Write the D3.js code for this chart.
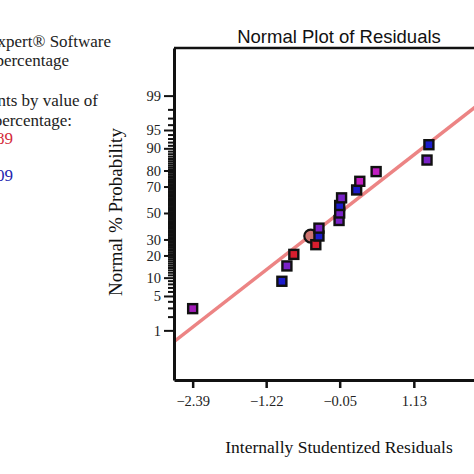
<!DOCTYPE html>
<html>
<head>
<meta charset="utf-8">
<script src="https://cdn.jsdelivr.net/npm/d3@7"></script>
<style>
  html, body { margin: 0; padding: 0; background: #fff; }
  svg { display: block; }
</style>
</head>
<body>
<svg id="chart" width="474" height="474"></svg>
<script>
// ---------- data ----------
const residuals = [-2.39, -0.97, -0.89, -0.78, -0.43, -0.38, -0.38, -0.06, -0.05, -0.05, -0.02, 0.22, 0.27, 0.53, 1.34, 1.37, 2.30];
const probabilities = [2.9, 8.8, 14.7, 20.6, 26.5, 32.4, 38.2, 44.1, 50.0, 55.9, 61.8, 67.6, 73.5, 79.4, 85.3, 91.2, 97.1];
const pointColors = ["#a11cb8", "#1c1ccc", "#7a22c8", "#d81e2e", "#d81e2e", "#1c1ccc", "#7a22c8", "#7a22c8", "#7a22c8", "#1c1ccc", "#7a22c8", "#1c1ccc", "#c21fc2", "#c21fc2", "#7a22c8", "#1c1ccc", "#d81e2e"];
const highlightResidual = [-0.51];
const highlightProbability = [32.4];
const xTickValues = [-2.39, -1.22, -0.05, 1.13, 2.30];
const yMajorTicks = [1, 5, 10, 20, 30, 50, 70, 80, 90, 95, 99];
const yMinorTicks = d3.range(1, 100).filter(v => !yMajorTicks.includes(v));
const xDomain = [-2.687, 2.597];
const zDomain = [-3.31, 3.27];
const fitIntercept = 0.057;
const fitSlope = 0.970;
const title = "Normal Plot of Residuals";
const xTitle = "Internally Studentized Residuals";
const yTitle = "Normal % Probability";
const sideText = ["Design-Expert® Software", "Removal percentage", "", "Color points by value of", "Removal percentage:", "98.89", "", "61.09"];
const sideColors = ["#222", "#222", "#222", "#222", "#222", "#d42a3a", "#222", "#2424b0"];

// ---------- helpers ----------
function probit(p) {
  // Acklam's inverse normal CDF approximation
  const a = [-3.969683028665376e+01, 2.209460984245205e+02, -2.759285104469687e+02, 1.383577518672690e+02, -3.066479806614716e+01, 2.506628277459239e+00];
  const b = [-5.447609879822406e+01, 1.615858368580409e+02, -1.556989798598866e+02, 6.680131188771972e+01, -1.328068155288572e+01];
  const c = [-7.784894002430293e-03, -3.223964580411365e-01, -2.400758277161838e+00, -2.549732539343734e+00, 4.374664141464968e+00, 2.938163982698783e+00];
  const d = [7.784695709041462e-03, 3.224671290700398e-01, 2.445134137142996e+00, 3.754408661907416e+00];
  const pl = 0.02425, ph = 1 - pl;
  let q, r;
  if (p < pl) {
    q = Math.sqrt(-2 * Math.log(p));
    return (((((c[0]*q+c[1])*q+c[2])*q+c[3])*q+c[4])*q+c[5]) / ((((d[0]*q+d[1])*q+d[2])*q+d[3])*q+1);
  } else if (p <= ph) {
    q = p - 0.5; r = q*q;
    return (((((a[0]*r+a[1])*r+a[2])*r+a[3])*r+a[4])*r+a[5])*q / (((((b[0]*r+b[1])*r+b[2])*r+b[3])*r+b[4])*r+1);
  } else {
    q = Math.sqrt(-2 * Math.log(1 - p));
    return -(((((c[0]*q+c[1])*q+c[2])*q+c[3])*q+c[4])*q+c[5]) / ((((d[0]*q+d[1])*q+d[2])*q+d[3])*q+1);
  }
}
const pz = pct => probit(pct / 100);

// ---------- layout ----------
const svg = d3.select("#chart");
const pLeft = 174, pRight = 506, pTop = 48, pBottom = 380;
const x = d3.scaleLinear().domain(xDomain).range([pLeft, pRight]);
const y = d3.scaleLinear().domain(zDomain).range([pBottom, pTop]);
const serif = "'Liberation Serif', 'Times New Roman', serif";
const sans = "'Liberation Sans', Arial, sans-serif";

// side text
svg.append("g").selectAll("text").data(sideText).join("text")
  .attr("x", (d, i) => [111, 69, 0, 98, 72, 13, 0, 13][i])
  .attr("y", (d, i) => [47, 66, 86, 106, 126, 144, 163, 181][i])
  .attr("text-anchor", "end")
  .attr("font-family", serif)
  .attr("font-size", 17)
  .attr("fill", (d, i) => sideColors[i])
  .text(d => d);

// title
svg.append("text")
  .attr("x", 339).attr("y", 43)
  .attr("text-anchor", "middle")
  .attr("font-family", sans).attr("font-size", 18.5).attr("fill", "#111")
  .text(title);

// clip
svg.append("clipPath").attr("id", "plotclip")
  .append("rect").attr("x", pLeft).attr("y", pTop).attr("width", pRight - pLeft).attr("height", pBottom - pTop);

// fit line
const plot = svg.append("g").attr("clip-path", "url(#plotclip)");
plot.append("line")
  .attr("x1", x(xDomain[0])).attr("y1", y(fitIntercept + fitSlope * xDomain[0]))
  .attr("x2", x(xDomain[1])).attr("y2", y(fitIntercept + fitSlope * xDomain[1]))
  .attr("stroke", "#ec8484").attr("stroke-width", 3.5);

// highlight circle
plot.selectAll("circle.hl").data(highlightResidual).join("circle")
  .attr("class", "hl")
  .attr("cx", d => x(d))
  .attr("cy", (d, i) => y(pz(highlightProbability[i])))
  .attr("r", 6.5)
  .attr("fill", "#cf7470").attr("stroke", "#111").attr("stroke-width", 2.2);

// points
plot.selectAll("rect.pt").data(residuals).join("rect")
  .attr("class", "pt")
  .attr("x", d => x(d) - 4.5)
  .attr("y", (d, i) => y(pz(probabilities[i])) - 4.5)
  .attr("width", 9).attr("height", 9)
  .attr("fill", (d, i) => pointColors[i])
  .attr("stroke", "#111").attr("stroke-width", 2.4);

// top frame
svg.append("line").attr("x1", pLeft).attr("x2", pRight).attr("y1", pTop).attr("y2", pTop)
  .attr("stroke", "#111").attr("stroke-width", 2.5);

// y axis minor
const yMinor = svg.append("g").attr("transform", `translate(${pLeft},0)`)
  .call(d3.axisLeft(y).tickValues(yMinorTicks.map(pz)).tickSize(6).tickFormat(""));
yMinor.select(".domain").remove();
yMinor.selectAll("line").attr("stroke", "#111").attr("stroke-width", 2);

// y axis major
const yAxis = svg.append("g").attr("transform", `translate(${pLeft},0)`)
  .call(d3.axisLeft(y).tickValues(yMajorTicks.map(pz)).tickSize(10).tickSizeOuter(0)
    .tickFormat((d, i) => yMajorTicks[i]));
yAxis.select(".domain").attr("stroke", "#111").attr("stroke-width", 3);
yAxis.selectAll(".tick line").attr("stroke", "#111").attr("stroke-width", 2);
yAxis.selectAll("text").attr("font-family", serif).attr("font-size", 14.5).attr("fill", "#222").attr("x", -13);

// x axis
const xAxis = svg.append("g").attr("transform", `translate(0,${pBottom})`)
  .call(d3.axisBottom(x).tickValues(xTickValues).tickSize(8).tickSizeOuter(0)
    .tickFormat(d3.format(".2f")));
xAxis.select(".domain").attr("stroke", "#111").attr("stroke-width", 3);
xAxis.selectAll(".tick line").attr("stroke", "#111").attr("stroke-width", 2.5);
xAxis.selectAll("text").attr("font-family", serif).attr("font-size", 14.5).attr("fill", "#222").attr("y", 16);

// axis titles
svg.append("text")
  .attr("x", 339).attr("y", 453)
  .attr("text-anchor", "middle")
  .attr("font-family", serif).attr("font-size", 17.5).attr("fill", "#111")
  .text(xTitle);
svg.append("text")
  .attr("transform", "translate(122,212) rotate(-90)")
  .attr("text-anchor", "middle")
  .attr("font-family", serif).attr("font-size", 19).attr("fill", "#111")
  .text(yTitle);
</script>
</body>
</html>
